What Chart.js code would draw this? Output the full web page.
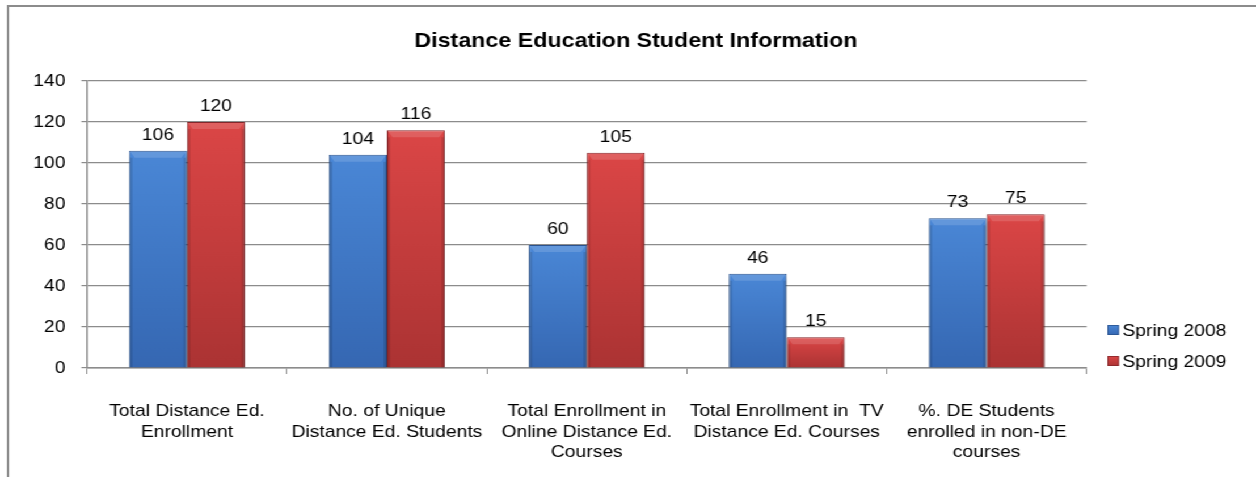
<!DOCTYPE html>
<html>
<head>
<meta charset="utf-8">
<script src="https://cdn.jsdelivr.net/npm/chart.js@4.4.1/dist/chart.umd.min.js"></script>
<style>
  html, body { margin: 0; padding: 0; background: #fff; overflow: hidden; }
  /* the original picture is a little stretched sideways, so the whole stage is too */
  #stage { position: absolute; left: 0; top: 0; width: 1121px; height: 477px; transform: scaleX(1.1346); transform-origin: 0 0; }
  #frame { position: absolute; left: 6px; top: 5px; width: 1200px; height: 600px; border: 2px solid #8c8c8c; }
  #chart { position: absolute; left: 0; top: 0; }
</style>
</head>
<body>
<div id="stage">
  <div id="frame"></div>
  <canvas id="chart" width="1121" height="477"></canvas>
</div>
<script>
const categories = [
  ['Total Distance Ed.', 'Enrollment'],
  ['No. of Unique', 'Distance Ed. Students'],
  ['Total Enrollment in', 'Online Distance Ed.', 'Courses'],
  ['Total Enrollment in  TV', 'Distance Ed. Courses'],
  ['%. DE Students', 'enrolled in non-DE', 'courses']
];
const spring2008 = [106, 104, 60, 46, 73];
const spring2009 = [120, 116, 105, 15, 75];
const seriesNames = ['Spring 2008', 'Spring 2009'];
const yMax = 140;
const yStep = 20;

const FONT = '"Liberation Sans", Arial, sans-serif';
Chart.defaults.font.family = FONT;
Chart.defaults.color = '#000';

const palette = [
  { top: '#4a87d6', bottom: '#3567b2', edge: '#2a538f' },  // blue
  { top: '#db4646', bottom: '#ab3333', edge: '#86262a' }   // red
];

// gradient from the bar's top down to zero, one per bar
const barFill = (p) => (ctx) => {
  const chart = ctx.chart;
  const y = chart.scales.y;
  if (!chart.chartArea || !y || ctx.parsed === undefined) return p.top;
  const top = y.getPixelForValue(ctx.parsed.y);
  const bottom = y.getPixelForValue(0);
  const g = chart.ctx.createLinearGradient(0, top, 0, bottom);
  g.addColorStop(0, p.top);
  g.addColorStop(1, p.bottom);
  return g;
};

const barShadow = {
  id: 'barShadow',
  beforeDatasetsDraw(chart) {
    const c = chart.ctx;
    c.save();
    c.shadowColor = 'rgba(0,0,0,0.35)';
    c.shadowBlur = 5;
    c.shadowOffsetX = 1;
    c.shadowOffsetY = 4;
  },
  afterDatasetsDraw(chart) {
    chart.ctx.restore();
  }
};

// light top bevel and darker sides, like the office 3d bars
const barBevel = {
  id: 'barBevel',
  afterDatasetsDraw(chart) {
    const c = chart.ctx;
    c.save();
    chart.data.datasets.forEach((ds, i) => {
      chart.getDatasetMeta(i).data.forEach((bar) => {
        const x0 = bar.x - bar.width / 2, x1 = bar.x + bar.width / 2;
        const top = bar.y, base = bar.base;
        const h = Math.min(7, (base - top) / 2);
        c.fillStyle = 'rgba(255,255,255,0.14)';
        c.beginPath();
        c.moveTo(x0 + 1, top + 1);
        c.lineTo(x1 - 1, top + 1);
        c.lineTo(x1 - 5, top + h);
        c.lineTo(x0 + 5, top + h);
        c.closePath();
        c.fill();
        c.fillStyle = 'rgba(0,0,0,0.12)';
        c.fillRect(x0 + 1, top + h, 2, base - top - h);
        c.fillRect(x1 - 3, top + h, 2, base - top - h);
      });
    });
    c.restore();
  }
};

const valueLabels = {
  id: 'valueLabels',
  afterDatasetsDraw(chart) {
    const c = chart.ctx;
    c.save();
    c.font = '17px ' + FONT;
    c.fillStyle = '#000';
    c.textAlign = 'center';
    c.textBaseline = 'alphabetic';
    chart.data.datasets.forEach((ds, i) => {
      chart.getDatasetMeta(i).data.forEach((bar, j) => {
        c.fillText(String(ds.data[j]), bar.x, bar.y - 11);
      });
    });
    c.restore();
  }
};

const sideLegend = {
  id: 'sideLegend',
  afterDraw(chart) {
    const c = chart.ctx;
    const a = chart.chartArea;
    c.save();
    c.font = '17px ' + FONT;
    c.textBaseline = 'middle';
    c.textAlign = 'left';
    chart.data.datasets.forEach((ds, i) => {
      const p = palette[i];
      const x = a.right + 18.5;
      const y = a.bottom - 38 + i * 31;
      const g = c.createLinearGradient(0, y - 5, 0, y + 5);
      g.addColorStop(0, p.top);
      g.addColorStop(1, p.bottom);
      c.fillStyle = g;
      c.fillRect(x, y - 5, 10, 10);
      c.strokeStyle = p.edge;
      c.lineWidth = 0.8;
      c.strokeRect(x + 0.4, y - 4.6, 9.2, 9.2);
      c.fillStyle = '#000';
      c.fillText(ds.label, x + 13, y + 1);
    });
    c.restore();
  }
};

new Chart(document.getElementById('chart'), {
  type: 'bar',
  data: {
    labels: categories,
    datasets: [
      {
        label: seriesNames[0],
        data: spring2008,
        backgroundColor: barFill(palette[0]),
        borderColor: palette[0].edge,
        borderWidth: 1
      },
      {
        label: seriesNames[1],
        data: spring2009,
        backgroundColor: barFill(palette[1]),
        borderColor: palette[1].edge,
        borderWidth: 1
      }
    ]
  },
  options: {
    responsive: false,
    animation: false,
    events: [],
    categoryPercentage: 0.58,
    barPercentage: 1,
    layout: { padding: 0 },
    plugins: {
      legend: { display: false },
      tooltip: { enabled: false },
      title: {
        display: true,
        text: 'Distance Education Student Information',
        color: '#000',
        font: { size: 20.5, weight: 'bold' },
        padding: { top: 29, bottom: 27.4 }
      }
    },
    scales: {
      x: {
        grid: { drawOnChartArea: false, drawTicks: true, tickLength: 6, color: '#8c8c8c', offset: true },
        border: { color: '#8c8c8c', width: 1.5 },
        ticks: { color: '#000', font: { size: 17, lineHeight: 1.21 }, padding: 27, maxRotation: 0, autoSkip: false },
        afterFit(scale) { scale.height = 109; }
      },
      y: {
        min: 0,
        max: yMax,
        grid: { color: '#8c8c8c', lineWidth: 1.2, drawTicks: true, tickLength: 5, tickColor: '#8c8c8c' },
        border: { color: '#8c8c8c', width: 1.5 },
        ticks: { stepSize: yStep, color: '#000', font: { size: 17 }, padding: 14 },
        afterFit(scale) { scale.width = 76.7; }
      },
      // empty box on the right that keeps room for the legend
      legendRoom: {
        type: 'linear',
        position: 'right',
        min: 0,
        max: 1,
        grid: { display: false, drawTicks: false },
        border: { display: false },
        ticks: { display: false },
        afterFit(scale) { scale.width = 163.3; }
      }
    }
  },
  plugins: [barShadow, barBevel, valueLabels, sideLegend]
});
</script>
</body>
</html>
